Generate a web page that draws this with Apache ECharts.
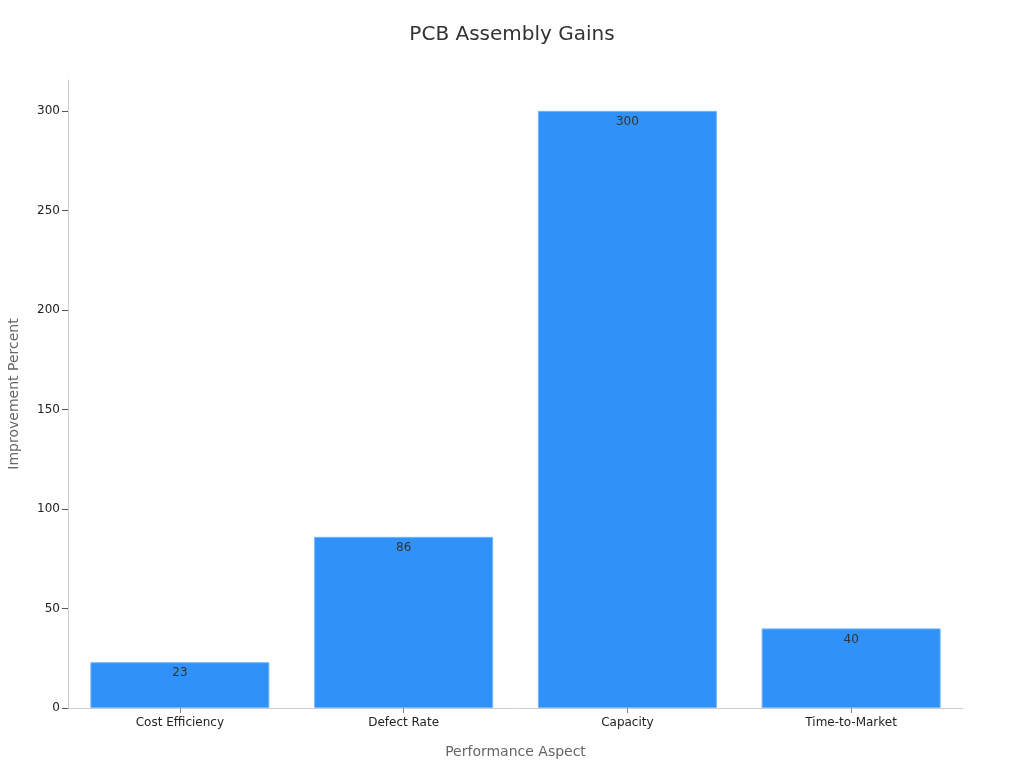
<!DOCTYPE html>
<html>
<head>
<meta charset="utf-8">
<title>PCB Assembly Gains</title>
<script src="https://cdn.jsdelivr.net/npm/echarts@6/dist/echarts.min.js"></script>
</head>
<body style="margin:0;background:#fff">
<div id="chart" style="width:1024px;height:768px"></div>
<script type="text/javascript">
// data
var aspects = ['Cost Efficiency', 'Defect Rate', 'Capacity', 'Time-to-Market'];
var gains = [23, 86, 300, 40];
var yTicks = [0, 50, 100, 150, 200, 250, 300];

var myChart = echarts.init(document.getElementById('chart'));
myChart.setOption({
  textStyle: { fontFamily: 'DejaVu Sans' },
  title: {
    text: 'PCB Assembly Gains',
    left: 'center',
    top: 20,
    textStyle: { fontSize: 20, fontWeight: 'normal', color: '#333', fontFamily: 'DejaVu Sans' }
  },
  grid: { left: 68, right: 61, top: 80, bottom: 60, outerBoundsMode: 'none', containLabel: false },
  xAxis: {
    type: 'category',
    data: aspects,
    name: 'Performance Aspect',
    nameLocation: 'middle',
    nameGap: 37,
    nameTextStyle: { fontSize: 14, color: '#666' },
    axisLine: { lineStyle: { color: '#ccc' } },
    axisTick: { show: true, alignWithLabel: true, length: 5, lineStyle: { color: '#888' } },
    axisLabel: { fontSize: 12, color: '#222', margin: 9 }
  },
  yAxis: {
    type: 'value',
    min: 0,
    max: 315.5,
    interval: 50,
    name: 'Improvement Percent',
    nameLocation: 'middle',
    nameGap: 47,
    nameTextStyle: { fontSize: 14, color: '#666' },
    axisLine: { show: true, lineStyle: { color: '#ccc' } },
    axisTick: { show: true, length: 6, customValues: yTicks, lineStyle: { color: '#555' } },
    axisLabel: { fontSize: 12, color: '#222', margin: 8, customValues: yTicks },
    splitLine: { show: false }
  },
  series: [{
    type: 'bar',
    data: gains,
    barWidth: '80%',
    itemStyle: { color: '#3092f8', borderColor: '#70b6fb', borderWidth: 1 },
    label: { show: true, position: 'insideTop', distance: 5, fontSize: 12, color: '#333' }
  }]
});
</script>
</body>
</html>
